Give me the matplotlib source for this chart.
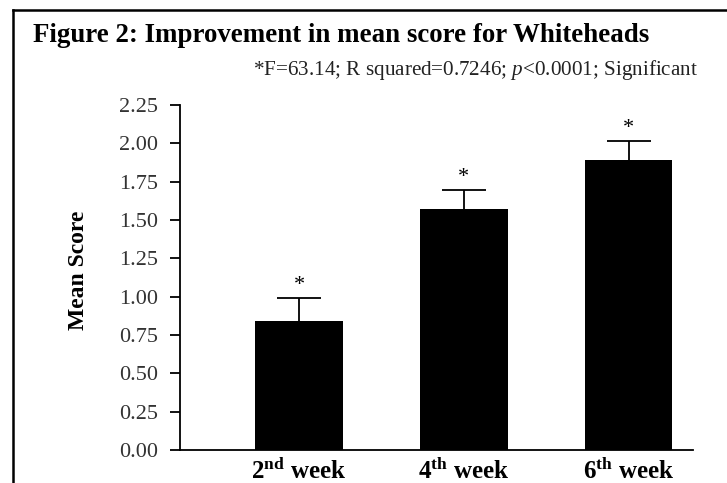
import matplotlib
matplotlib.use("Agg")
import matplotlib.pyplot as plt
from matplotlib.lines import Line2D

weeks = [r"$\mathbf{2^{nd}}$ week", r"$\mathbf{4^{th}}$ week", r"$\mathbf{6^{th}}$ week"]
means = [0.84, 1.57, 1.89]
errors = [0.15, 0.125, 0.125]
yticks = [0.00, 0.25, 0.50, 0.75, 1.00, 1.25, 1.50, 1.75, 2.00, 2.25]

plt.rcParams["font.family"] = "Liberation Serif"
plt.rcParams["mathtext.fontset"] = "custom"
plt.rcParams["mathtext.rm"] = "Liberation Serif"
plt.rcParams["mathtext.it"] = "Liberation Serif:italic"
plt.rcParams["mathtext.bf"] = "Liberation Serif:bold"

fig = plt.figure(figsize=(7.27, 4.83), dpi=100)
ax = fig.add_axes([0.2476, 0.0683, 0.7056, 0.7143])

x = range(len(means))
ax.bar(x, means, width=0.53, color="black", zorder=3)
# symmetric bars drawn underneath, so only the upper half shows
ax.errorbar(x, means, yerr=errors, fmt="none", ecolor="black",
            elinewidth=1.3, capsize=15.5, capthick=1.3, zorder=2)
for xi, m, e in zip(x, means, errors):
    ax.annotate("*", (xi, m + e), xytext=(0, 2), textcoords="offset points",
                ha="center", va="bottom", fontsize=16)

ax.set_xlim(-0.722, 2.39)
ax.set_ylim(0, 2.25)
ax.set_yticks(yticks)
ax.set_yticklabels(["%.2f" % v for v in yticks], fontsize=16, color="#333333")
ax.set_xticks(list(x))
ax.set_xticklabels(weeks, fontsize=18, fontweight="bold")
ax.tick_params(axis="x", length=0, pad=6)
ax.tick_params(axis="y", length=7, width=1.3, pad=9)
for s in ["top", "right"]:
    ax.spines[s].set_visible(False)
for s in ["left", "bottom"]:
    ax.spines[s].set_linewidth(1.3)
ax.set_ylabel("Mean Score", fontsize=17, fontweight="bold")
ax.yaxis.set_label_coords(-0.178, 0.522)

fig.text(0.045, 0.927, "Figure 2: Improvement in mean score for Whiteheads",
         fontsize=19.4, fontweight="bold", va="center", ha="left")
fig.text(0.348, 0.855, r"*F=63.14; R squared=0.7246; $\it{p}$<0.0001; Significant",
         fontsize=15.2, va="center", ha="left", color="#222222")

# outer frame (top and left edges visible)
fig.add_artist(Line2D([13 / 727, 1], [1 - 10 / 483, 1 - 10 / 483],
                      transform=fig.transFigure, color="black", lw=1.8))
fig.add_artist(Line2D([13 / 727, 13 / 727], [0, 1 - 10 / 483],
                      transform=fig.transFigure, color="black", lw=1.8))

fig.savefig("out.png", dpi=100)
